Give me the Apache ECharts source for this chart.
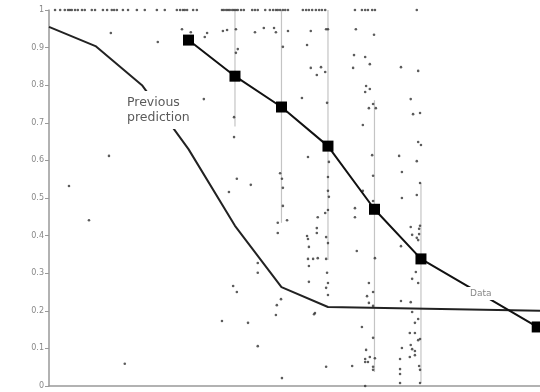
<!DOCTYPE html>
<html>
<head>
<meta charset="utf-8">
<script src="https://cdn.jsdelivr.net/npm/echarts@6/dist/echarts.min.js"></script>
<style>
  html, body { margin: 0; padding: 0; background: #fff; }
  #main { width: 540px; height: 392px; }
</style>
</head>
<body>
<div id="main"></div>
<script>
// x positions are in "step" units, 0 at the y axis, steps ~46.5px apart
const dataX = [3, 4, 5, 6, 7, 8, 10.5]
const dataY = [0.92, 0.824, 0.742, 0.638, 0.47, 0.338, 0.157]

const prevX = [0, 1, 2, 3, 4, 5, 6, 10.56]
const prevY = [0.955, 0.904, 0.80, 0.63, 0.426, 0.263, 0.21, 0.2]

// grey range bars
const rangeX = [4, 5, 6, 7, 8]
const rangeHigh = [1.0, 1.0, 1.0, 0.76, 0.54]
const rangeLow = [0.69, 0.434, 0.335, 0.037, 0.008]

// dots sitting on the top line (y = 1)
const topRowX = [0.13, 0.24, 0.34, 0.41, 0.45, 0.49, 0.56, 0.62, 0.71, 0.77, 0.92, 0.99, 1.16, 1.25, 1.35, 1.40,
  1.46, 1.59, 1.70, 1.89, 2.06, 2.32, 2.49, 2.75, 2.82, 2.88, 2.92, 2.97, 3.10, 3.18, 3.72, 3.76, 3.81, 3.85,
  3.89, 3.94, 3.98, 4.02, 4.06, 4.13, 4.19, 4.37, 4.43, 4.49, 4.65, 4.75, 4.82, 4.88, 4.92, 4.97, 5.03, 5.08,
  5.14, 5.46, 5.53, 5.59, 5.66, 5.74, 5.81, 5.87, 5.94, 6.58, 6.73, 6.80, 6.86, 6.95, 7.01, 7.91]

// the rest of the scattered observations [x, y]
const dots = [
  [1.33, 0.939], [2.34, 0.915], [2.86, 0.949], [3.05, 0.941], [3.40, 0.939], [3.35, 0.928], [3.74, 0.944],
  [3.83, 0.947], [4.02, 0.949], [4.43, 0.941], [4.62, 0.952], [4.84, 0.952], [4.88, 0.941], [5.14, 0.944],
  [5.63, 0.944], [5.96, 0.949], [6.00, 0.949], [6.60, 0.949], [4.06, 0.896], [4.02, 0.886], [5.03, 0.902],
  [5.55, 0.907], [6.56, 0.880], [6.54, 0.846], [5.63, 0.846], [5.85, 0.848], [5.76, 0.827], [5.94, 0.835],
  [3.33, 0.763], [5.44, 0.766], [5.98, 0.753], [3.98, 0.715], [6.99, 0.934], [6.80, 0.875], [6.90, 0.856],
  [7.57, 0.848], [7.94, 0.838], [6.82, 0.798], [6.90, 0.790], [6.80, 0.782], [7.78, 0.763], [6.97, 0.750],
  [6.88, 0.739], [7.03, 0.739], [7.83, 0.723], [7.98, 0.726], [6.75, 0.694], [1.29, 0.612], [0.43, 0.532],
  [0.86, 0.441], [3.98, 0.662], [5.57, 0.609], [4.97, 0.566], [5.01, 0.551], [4.04, 0.551], [4.34, 0.535],
  [3.87, 0.516], [5.03, 0.527], [6.02, 0.596], [6.00, 0.556], [6.00, 0.519], [6.02, 0.503], [6.00, 0.468],
  [5.94, 0.460], [5.78, 0.449], [6.58, 0.473], [6.58, 0.449], [5.03, 0.479], [5.12, 0.441], [4.92, 0.434],
  [4.92, 0.407], [5.76, 0.420], [5.76, 0.407], [5.55, 0.399], [5.57, 0.391], [5.96, 0.396], [6.00, 0.380],
  [5.59, 0.370], [6.62, 0.359], [5.57, 0.338], [5.68, 0.338], [5.78, 0.340], [5.96, 0.338], [7.94, 0.649],
  [8.00, 0.641], [6.95, 0.614], [7.53, 0.612], [7.91, 0.598], [6.97, 0.559], [7.59, 0.569], [7.98, 0.540],
  [6.75, 0.519], [6.97, 0.492], [7.59, 0.500], [7.91, 0.508], [7.78, 0.423], [7.98, 0.426], [7.96, 0.418],
  [7.81, 0.402], [7.96, 0.404], [7.91, 0.394], [7.94, 0.388], [7.57, 0.372], [7.01, 0.340], [1.63, 0.059],
  [4.49, 0.327], [4.49, 0.301], [3.96, 0.266], [4.04, 0.250], [3.72, 0.173], [4.28, 0.168], [4.49, 0.106],
  [5.01, 0.021], [4.90, 0.215], [4.99, 0.231], [4.88, 0.189], [5.59, 0.319], [5.98, 0.301], [5.59, 0.277],
  [6.00, 0.274], [5.96, 0.261], [6.00, 0.242], [5.72, 0.194], [5.70, 0.191], [5.96, 0.051], [6.52, 0.053],
  [6.88, 0.274], [6.97, 0.250], [6.84, 0.239], [6.88, 0.221], [6.97, 0.213], [6.73, 0.157], [6.97, 0.128],
  [6.82, 0.096], [6.90, 0.077], [6.80, 0.072], [7.01, 0.074], [6.80, 0.064], [6.86, 0.064], [6.97, 0.051],
  [6.97, 0.043], [6.80, 0.0], [7.89, 0.303], [7.81, 0.285], [7.94, 0.274], [7.57, 0.226], [7.78, 0.223],
  [7.81, 0.197], [7.94, 0.178], [7.87, 0.168], [7.76, 0.141], [7.87, 0.141], [7.98, 0.125], [7.94, 0.122],
  [7.59, 0.101], [7.78, 0.109], [7.81, 0.098], [7.87, 0.093], [7.76, 0.077], [7.87, 0.082], [7.55, 0.072],
  [7.55, 0.045], [7.96, 0.053], [7.98, 0.043], [7.55, 0.032], [7.55, 0.008], [7.98, 0.008]
]

const chartDom = document.getElementById('main')
const myChart = echarts.init(chartDom)

let zip = (xs, ys) => xs.map((x, i) => [x, ys[i]])

let option = {
  animation: false,
  backgroundColor: '#fff',
  grid: { left: 49, right: 0, top: 10, bottom: 6 },
  xAxis: {
    type: 'value',
    min: 0,
    max: 10.56,
    axisLine: { lineStyle: { color: '#999', width: 1.5 } },
    axisTick: { show: false },
    axisLabel: { show: false },
    splitLine: { show: false }
  },
  yAxis: {
    type: 'value',
    min: 0,
    max: 1,
    interval: 0.1,
    axisLine: { show: true, lineStyle: { color: '#999', width: 1.5 } },
    axisTick: { show: true, length: 4, lineStyle: { color: '#999' } },
    axisLabel: {
      color: '#888',
      fontSize: 8,
      fontFamily: 'DejaVu Sans',
      margin: 5,
      formatter: (v) => (v === 0 ? '0' : v === 1 ? '1' : v.toFixed(1))
    },
    splitLine: { show: false }
  },
  series: [
    {
      name: 'range',
      type: 'custom',
      z: 1,
      data: rangeX.map((x, i) => [x, rangeLow[i], rangeHigh[i]]),
      renderItem: (params, api) => {
        let p1 = api.coord([api.value(0), api.value(1)])
        let p2 = api.coord([api.value(0), api.value(2)])
        return {
          type: 'line',
          shape: { x1: p1[0], y1: p1[1], x2: p2[0], y2: p2[1] },
          style: { stroke: '#c4c4c4', lineWidth: 1.2 }
        }
      }
    },
    {
      name: 'obs',
      type: 'scatter',
      z: 2,
      symbol: 'circle',
      symbolSize: 2.6,
      itemStyle: { color: '#333' },
      data: topRowX.map((x) => [x, 1]).concat(dots)
    },
    {
      name: 'Previous prediction',
      type: 'line',
      z: 3,
      symbol: 'none',
      lineStyle: { color: '#222', width: 2 },
      data: zip(prevX, prevY)
    },
    {
      name: 'Data',
      type: 'line',
      z: 4,
      symbol: 'rect',
      symbolSize: 11,
      itemStyle: { color: '#000' },
      lineStyle: { color: '#111', width: 2 },
      data: zip(dataX, dataY)
    }
  ],
  graphic: [
    {
      type: 'text',
      z: 100,
      left: 124,
      top: 91,
      style: {
        text: 'Previous\nprediction',
        fill: '#5a5a5a',
        font: '12.5px "DejaVu Sans"',
        lineHeight: 15,
        backgroundColor: '#fff',
        padding: [4, 3]
      }
    },
    {
      type: 'text',
      z: 100,
      left: 467,
      top: 287,
      style: {
        text: 'Data',
        fill: '#888',
        font: '9px "DejaVu Sans"',
        backgroundColor: '#fff',
        padding: [2, 3]
      }
    }
  ]
}

option && myChart.setOption(option)
</script>
</body>
</html>
